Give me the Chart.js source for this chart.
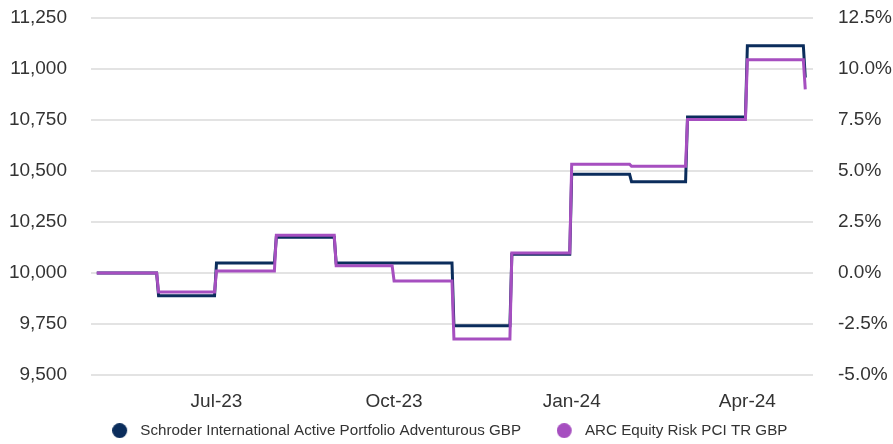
<!DOCTYPE html>
<html>
<head>
<meta charset="utf-8">
<script src="https://cdn.jsdelivr.net/npm/chart.js@4"></script>
<style>
  html, body { margin: 0; padding: 0; background: #ffffff; }
  #wrap { width: 893px; height: 444px; position: relative; }
</style>
</head>
<body>
<div id="wrap"><canvas id="perfChart"></canvas></div>
<script>
// Growth of 10,000 – monthly values, drawn as steps

const startDate = '2023-04-30';

// dates at which each monthly value takes over (first one is the start)
const stepDates = [
    '2023-04-30', '2023-05-31', '2023-06-30', '2023-07-31', '2023-08-31',
    '2023-09-30', '2023-10-31', '2023-11-30', '2023-12-31', '2024-01-31',
    '2024-02-29', '2024-03-31', '2024-04-30'
];

const seriesNames = [
    'Schroder International Active Portfolio Adventurous GBP',
    'ARC Equity Risk PCI TR GBP'
];
const seriesColours = ['#0b2d5c', '#a64fc0'];

const schroderValues = [10000, 9888, 10049, 10175, 10049, 10049, 9741, 10092, 10484, 10447, 10765, 11114, 10958];
const arcValues      = [10000, 9907, 10010, 10185, 10035, 9961, 9677, 10098, 10533, 10523, 10753, 11045, 10900];

const xTickDates = ['2023-07-01', '2023-10-01', '2024-01-01', '2024-04-01'];
const xTickLabels = ['Jul-23', 'Oct-23', 'Jan-24', 'Apr-24'];

const FONT = "'Liberation Sans', Arial, sans-serif";
const TEXT = '#333333';
const X_AXIS_HEIGHT = 36;
const LEGEND_TOP = 382;

function dayOf(s) {
    return (Date.parse(s) - Date.parse(startDate)) / 86400000;
}

// --- Build step points ---

function stepPoints(values) {
    const pts = [];
    for (let i = 0; i < values.length; i++) {
        const start = i === 0 ? 0 : dayOf(stepDates[i]) + 1;
        pts.push({ x: start, y: values[i] });
        if (i < values.length - 1) {
            pts.push({ x: dayOf(stepDates[i + 1]), y: values[i] });
        }
    }
    return pts;
}

// legend dot, drawn at the left of a wider transparent canvas for the text gap
function legendDot(colour) {
    const c = document.createElement('canvas');
    c.width = 26;
    c.height = 15;
    const g = c.getContext('2d');
    g.fillStyle = colour;
    g.beginPath();
    g.arc(7.5, 7.5, 7.5, 0, Math.PI * 2);
    g.fill();
    return c;
}

const tickDays = xTickDates.map(dayOf);

// --- Legend sizing tweaks ---

const legendTweak = {
    id: 'legendTweak',
    beforeUpdate(chart) {
        const legend = chart.legend;
        if (!legend || legend._tweaked) return;
        const origFit = legend.fit.bind(legend);
        legend.fit = function () {
            origFit();
            this.height = chart.height - 375 - X_AXIS_HEIGHT;
        };
        legend._tweaked = true;
    },
    afterLayout(chart) {
        const legend = chart.legend;
        legend.left += 6;
        legend.right += 6;
        legend.top = LEGEND_TOP;
    }
};

const ctx = document.getElementById('perfChart').getContext('2d');

new Chart(ctx, {
    type: 'line',
    data: {
        datasets: [
            {
                label: seriesNames[0],
                data: stepPoints(schroderValues),
                borderColor: seriesColours[0],
                backgroundColor: seriesColours[0],
                pointStyle: legendDot(seriesColours[0]),
                borderWidth: 3,
                pointRadius: 0,
                tension: 0,
                order: 1,
                yAxisID: 'y'
            },
            {
                label: seriesNames[1],
                data: stepPoints(arcValues),
                borderColor: seriesColours[1],
                backgroundColor: seriesColours[1],
                pointStyle: legendDot(seriesColours[1]),
                borderWidth: 3,
                pointRadius: 0,
                tension: 0,
                order: 0,
                yAxisID: 'y'
            }
        ]
    },
    options: {
        responsive: true,
        maintainAspectRatio: false,
        animation: false,
        layout: { padding: { top: 18, left: 0, right: 0, bottom: 0 } },
        scales: {
            x: {
                type: 'linear',
                min: -3,
                max: 371,
                grid: { display: false, drawTicks: false },
                border: { display: false },
                afterBuildTicks: (axis) => {
                    axis.ticks = tickDays.map(v => ({ value: v }));
                },
                afterFit: (axis) => {
                    axis.height = X_AXIS_HEIGHT;
                    axis.paddingLeft = 0;
                    axis.paddingRight = 0;
                },
                ticks: {
                    color: TEXT,
                    font: { family: FONT, size: 19 },
                    maxRotation: 0,
                    autoSkip: false,
                    padding: 15,
                    callback: (value) => {
                        const idx = tickDays.indexOf(value);
                        return idx >= 0 ? xTickLabels[idx] : '';
                    }
                }
            },
            y: {
                position: 'left',
                min: 9500,
                max: 11250,
                grid: { color: '#e3e3e3', lineWidth: 2, drawTicks: false },
                border: { display: false },
                afterFit: (axis) => {
                    axis.width = 91;
                    axis.paddingTop = 0;
                    axis.paddingBottom = 0;
                },
                ticks: {
                    stepSize: 250,
                    color: TEXT,
                    font: { family: FONT, size: 19 },
                    padding: 24,
                    callback: (v) => v.toLocaleString('en-GB')
                }
            },
            y2: {
                position: 'right',
                min: -5,
                max: 12.5,
                grid: { display: false, drawTicks: false },
                border: { display: false },
                afterFit: (axis) => {
                    axis.width = 80;
                    axis.paddingTop = 0;
                    axis.paddingBottom = 0;
                },
                ticks: {
                    stepSize: 2.5,
                    color: TEXT,
                    font: { family: FONT, size: 19 },
                    padding: 25,
                    callback: (v) => v.toFixed(1) + '%'
                }
            }
        },
        plugins: {
            legend: {
                position: 'bottom',
                labels: {
                    usePointStyle: true,
                    boxWidth: 16,
                    boxHeight: 15,
                    padding: 41,
                    color: TEXT,
                    font: { family: FONT, size: 15.2 },
                    sort: (a, b) => a.datasetIndex - b.datasetIndex
                }
            },
            tooltip: { enabled: false }
        }
    },
    plugins: [legendTweak]
});
</script>
</body>
</html>
